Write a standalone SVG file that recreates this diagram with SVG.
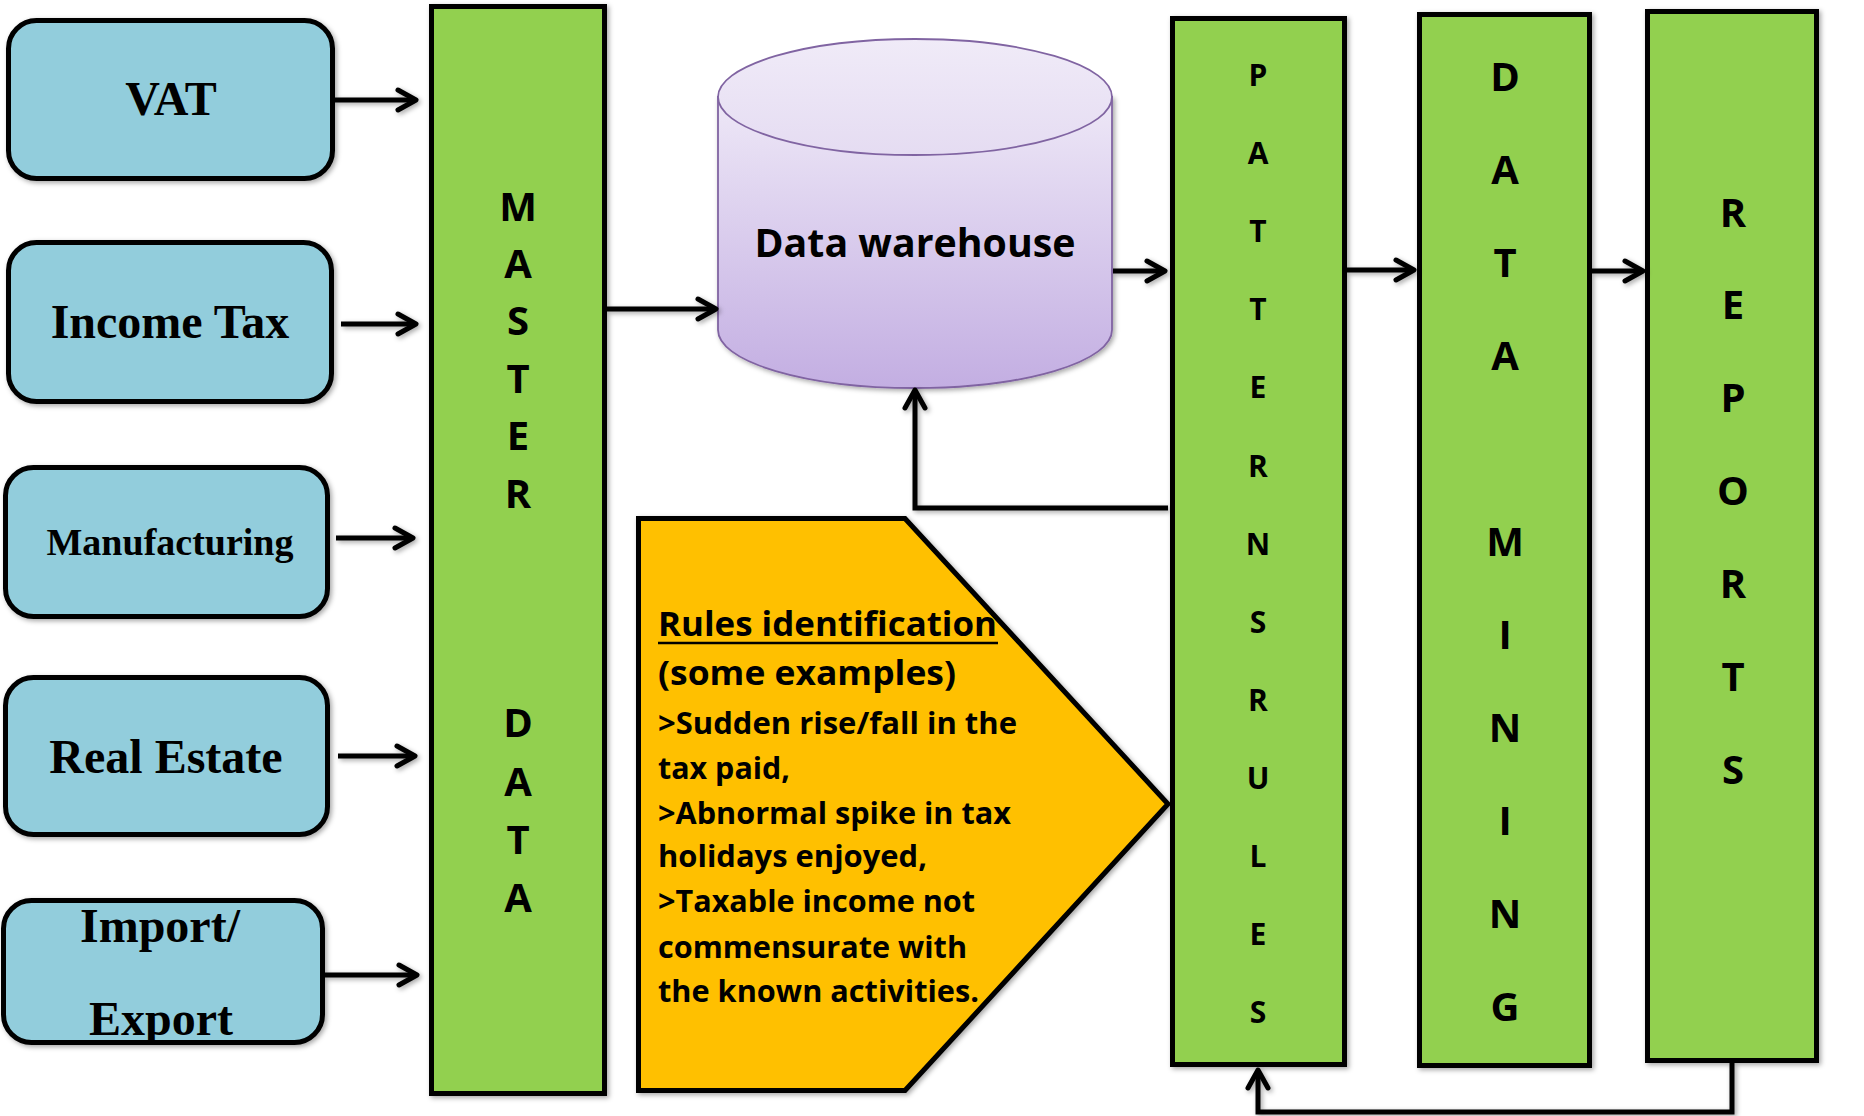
<svg xmlns="http://www.w3.org/2000/svg" width="1864" height="1116" viewBox="0 0 1864 1116">
<defs>
<filter id="sh" x="-10%" y="-10%" width="120%" height="120%">
<feDropShadow dx="2" dy="2" stdDeviation="2.5" flood-color="#000" flood-opacity="0.35"/>
</filter>
<linearGradient id="cylBody" x1="0" y1="0" x2="0" y2="1">
<stop offset="0" stop-color="#EEE8F7"/>
<stop offset="1" stop-color="#C3AEE2"/>
</linearGradient>
<linearGradient id="cylTop" x1="0" y1="0" x2="0" y2="1">
<stop offset="0" stop-color="#F0EBF8"/>
<stop offset="1" stop-color="#E5DCF2"/>
</linearGradient>
<marker id="arr" markerUnits="userSpaceOnUse" markerWidth="30" markerHeight="30" viewBox="-24 -15 30 30" refX="0" refY="0" orient="auto" overflow="visible">
<path d="M-18,-10 L0,0 L-18,10" fill="none" stroke="#000" stroke-width="5" stroke-linecap="round" stroke-linejoin="round"/>
</marker>
</defs>
<style>
.src{fill:#92CDDC;stroke:#000;stroke-width:5;filter:url(#sh)}
.srct{font-family:"Liberation Serif","Times New Roman",serif;font-weight:bold;font-size:48px;fill:#000;text-anchor:middle}
.bar{fill:#92D050;stroke:#000;stroke-width:5;filter:url(#sh)}
.ltr{font-family:"Open Sans","Noto Sans",sans-serif;font-weight:bold;font-size:40px;fill:#000;text-anchor:middle}
.ltrs{font-size:30px}
.con{fill:none;stroke:#000;stroke-width:5;marker-end:url(#arr)}
.rule{font-family:"Open Sans","Noto Sans",sans-serif;font-weight:bold;font-size:30px;fill:#000}
.ruleh{font-size:34px}
</style>
<rect width="1864" height="1116" fill="#fff"/>

<g id="vat">
<rect class="src" x="8.5" y="20.5" width="324" height="158" rx="28"/>
<text class="srct" x="171" y="115">VAT</text>
</g>
<g id="income-tax">
<rect class="src" x="8.5" y="242.5" width="323" height="159" rx="28"/>
<text class="srct" x="170" y="338">Income Tax</text>
</g>
<g id="manufacturing">
<rect class="src" x="5.5" y="467.5" width="322" height="149" rx="28"/>
<text class="srct" x="170" y="555" style="font-size:38px">Manufacturing</text>
</g>
<g id="real-estate">
<rect class="src" x="5.5" y="677.5" width="322" height="157" rx="28"/>
<text class="srct" x="166" y="773">Real Estate</text>
</g>
<g id="import-export">
<rect class="src" x="3.5" y="900.5" width="319" height="142" rx="28"/>
<text class="srct" x="160" y="942">Import/</text>
<text class="srct" x="161" y="1035">Export</text>
</g>

<g id="master-data">
<rect class="bar" x="431.5" y="6.5" width="173" height="1087"/>
<text class="ltr" x="518" y="221">M</text>
<text class="ltr" x="518" y="278">A</text>
<text class="ltr" x="518" y="335">S</text>
<text class="ltr" x="518" y="393">T</text>
<text class="ltr" x="518" y="450">E</text>
<text class="ltr" x="518" y="508">R</text>
<text class="ltr" x="518" y="737">D</text>
<text class="ltr" x="518" y="796">A</text>
<text class="ltr" x="518" y="854">T</text>
<text class="ltr" x="518" y="912">A</text>
</g>

<g id="data-warehouse">
<path d="M718,97 V330 A197,58 0 0 0 1112,330 V97 Z" fill="url(#cylBody)" stroke="#8064A2" stroke-width="1.8" filter="url(#sh)"/>
<ellipse cx="915" cy="97" rx="197" ry="58" fill="url(#cylTop)" stroke="#8064A2" stroke-width="1.8"/>
<text class="ltr" x="915" y="257" textLength="321" lengthAdjust="spacingAndGlyphs">Data warehouse</text>
</g>

<g id="rules">
<polygon points="638.5,518.5 905,518.5 1168,804 905,1090.5 638.5,1090.5" fill="#FFC000" stroke="#000" stroke-width="5" filter="url(#sh)"/>
<text class="rule ruleh" x="658" y="636" textLength="339" lengthAdjust="spacingAndGlyphs">Rules identification</text>
<line x1="658" y1="643" x2="998" y2="643" stroke="#000" stroke-width="2.5"/>
<text class="rule ruleh" x="658" y="685" textLength="298" lengthAdjust="spacingAndGlyphs">(some examples)</text>
<text class="rule" x="658" y="734" textLength="359" lengthAdjust="spacingAndGlyphs">&gt;Sudden rise/fall in the</text>
<text class="rule" x="658" y="779" textLength="132" lengthAdjust="spacingAndGlyphs">tax paid,</text>
<text class="rule" x="658" y="824" textLength="353" lengthAdjust="spacingAndGlyphs">&gt;Abnormal spike in tax</text>
<text class="rule" x="658" y="867" textLength="269" lengthAdjust="spacingAndGlyphs">holidays enjoyed,</text>
<text class="rule" x="658" y="912" textLength="317" lengthAdjust="spacingAndGlyphs">&gt;Taxable income not</text>
<text class="rule" x="658" y="958" textLength="309" lengthAdjust="spacingAndGlyphs">commensurate with</text>
<text class="rule" x="658" y="1002" textLength="321" lengthAdjust="spacingAndGlyphs">the known activities.</text>
</g>

<g id="patterns-rules">
<rect class="bar" x="1172.5" y="18.5" width="172" height="1046"/>
<text class="ltr ltrs" x="1258" y="86">P</text>
<text class="ltr ltrs" x="1258" y="164">A</text>
<text class="ltr ltrs" x="1258" y="242">T</text>
<text class="ltr ltrs" x="1258" y="320">T</text>
<text class="ltr ltrs" x="1258" y="398">E</text>
<text class="ltr ltrs" x="1258" y="477">R</text>
<text class="ltr ltrs" x="1258" y="555">N</text>
<text class="ltr ltrs" x="1258" y="633">S</text>
<text class="ltr ltrs" x="1258" y="711">R</text>
<text class="ltr ltrs" x="1258" y="789">U</text>
<text class="ltr ltrs" x="1258" y="867">L</text>
<text class="ltr ltrs" x="1258" y="945">E</text>
<text class="ltr ltrs" x="1258" y="1023">S</text>
</g>

<g id="data-mining">
<rect class="bar" x="1419.5" y="14.5" width="170" height="1051"/>
<text class="ltr" x="1505" y="91">D</text>
<text class="ltr" x="1505" y="184">A</text>
<text class="ltr" x="1505" y="277">T</text>
<text class="ltr" x="1505" y="370">A</text>
<text class="ltr" x="1505" y="556">M</text>
<text class="ltr" x="1505" y="649">I</text>
<text class="ltr" x="1505" y="742">N</text>
<text class="ltr" x="1505" y="835">I</text>
<text class="ltr" x="1505" y="928">N</text>
<text class="ltr" x="1505" y="1021">G</text>
</g>

<g id="reports">
<rect class="bar" x="1647.5" y="11.5" width="169" height="1049"/>
<text class="ltr" x="1733" y="227">R</text>
<text class="ltr" x="1733" y="319">E</text>
<text class="ltr" x="1733" y="412">P</text>
<text class="ltr" x="1733" y="505">O</text>
<text class="ltr" x="1733" y="598">R</text>
<text class="ltr" x="1733" y="691">T</text>
<text class="ltr" x="1733" y="784">S</text>
</g>

<g id="connectors" filter="url(#sh)">
<path class="con" d="M335,100 H416"/>
<path class="con" d="M341,324 H416"/>
<path class="con" d="M336,538 H413"/>
<path class="con" d="M338,756 H415"/>
<path class="con" d="M325,975 H417"/>
<path class="con" d="M607,309 H716"/>
<path class="con" d="M1113,271 H1165"/>
<path class="con" d="M1168,508 H915 V390"/>
<path class="con" d="M1347,270 H1414"/>
<path class="con" d="M1592,271 H1643"/>
<path class="con" d="M1732,1063 V1112 H1258 V1070"/>
</g>
</svg>
